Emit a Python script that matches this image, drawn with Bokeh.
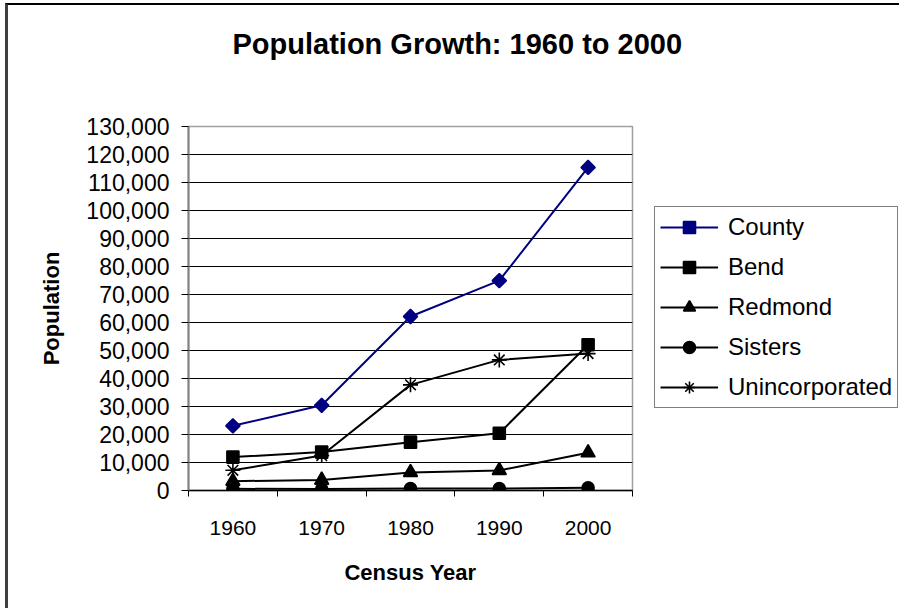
import numpy as np
from bokeh.plotting import figure
from bokeh.models import (Range1d, FixedTicker, NumeralTickFormatter, Legend, LegendItem)
from bokeh.embed import file_html
from bokeh.resources import INLINE

years = ["1960", "1970", "1980", "1990", "2000"]
county = [23100, 30442, 62142, 74958, 115367]
bend = [11936, 13710, 17263, 20469, 52029]
redmond = [3340, 3721, 6452, 7163, 13481]
sisters = [602, 516, 696, 679, 959]
unincorporated = [7222, 12495, 37731, 46647, 48898]

y_ticks = list(range(0, 130001, 10000))

FONT = "Liberation Sans"

p = figure(frame_width=444, frame_height=364, output_backend="svg", toolbar_location=None,
           x_range=Range1d(0, len(years)), y_range=Range1d(0, 130000),
           min_border_left=180, min_border_right=266, min_border_top=121,
           min_border_bottom=118,
           styles={"border-top": "2px solid #000000", "border-left": "3px solid #404040",
                   "margin-left": "5px", "margin-top": "3px"})

# trailing line breaks reserve empty lines below the title, lifting it up
p.title.text = "Population Growth: 1960 to 2000\n\n"
p.title.text_font = FONT
p.title.text_font_size = "29px"
p.title.text_font_style = "bold"
p.title.text_color = "#000000"
p.title.align = "left"
p.title.offset = 44
p.title.standoff = 6

xs = [i + 0.5 for i in range(len(years))]

p.xaxis.ticker = FixedTicker(ticks=xs, minor_ticks=list(range(len(years) + 1)))
p.xaxis.major_label_overrides = {x: y for x, y in zip(xs, years)}
p.xaxis.major_tick_out = 0
p.xaxis.major_tick_in = 0
p.xaxis.minor_tick_out = 6
p.xaxis.minor_tick_in = 0
p.xaxis.minor_tick_line_color = "#000000"
p.xaxis.axis_line_color = "#000000"
p.xaxis.axis_line_width = 1.5
p.xaxis.major_label_text_font = FONT
p.xaxis.major_label_text_font_size = "21px"
p.xaxis.major_label_text_color = "#000000"
p.xaxis.major_label_standoff = 24
p.xaxis.axis_label = "Census Year"
p.xaxis.axis_label_text_font = FONT
p.xaxis.axis_label_text_font_size = "22px"
p.xaxis.axis_label_text_font_style = "bold"
p.xaxis.axis_label_text_color = "#000000"
p.xaxis.axis_label_standoff = 22

p.yaxis.ticker = FixedTicker(ticks=y_ticks)
p.yaxis.formatter = NumeralTickFormatter(format="0,0")
p.yaxis.major_tick_out = 7
p.yaxis.major_tick_in = 0
p.yaxis.minor_tick_line_color = None
p.yaxis.major_tick_line_color = "#000000"
p.yaxis.axis_line_color = "#808080"
p.yaxis.axis_line_width = 2
p.yaxis.major_label_text_font = FONT
p.yaxis.major_label_text_font_size = "23px"
p.yaxis.major_label_text_color = "#000000"
p.yaxis.major_label_standoff = 12
p.yaxis.axis_label = "Population"
p.yaxis.axis_label_text_font = FONT
p.yaxis.axis_label_text_font_size = "22px"
p.yaxis.axis_label_text_font_style = "bold"
p.yaxis.axis_label_text_color = "#000000"
p.yaxis.axis_label_standoff = 19

p.xgrid.grid_line_color = None
p.ygrid.grid_line_color = "#000000"
p.ygrid.grid_line_width = 1
p.outline_line_color = "#a0a0a0"
p.outline_line_width = 1.5

series = [
    ("County", county, "#000080", "square", 10, np.pi / 4),
    ("Bend", bend, "#000000", "square", 12, 0),
    ("Redmond", redmond, "#000000", "triangle", 14, 0),
    ("Sisters", sisters, "#000000", "circle", 12, 0),
    ("Unincorporated", unincorporated, "#000000", "asterisk", 15, 0),
]

items = []
for name, vals, color, marker, size, ang in series:
    lr = p.line(xs, vals, line_color=color, line_width=2)
    sr = p.scatter(xs, vals, marker=marker, size=size, angle=ang,
                   fill_color=color, line_color=color, line_width=1.6)
    items.append(LegendItem(label=name, renderers=[lr, sr]))

legend = Legend(items=items, location=(22, 82))
legend.label_text_font = FONT
legend.label_text_font_size = "24px"
legend.label_text_color = "#000000"
legend.glyph_width = 58
legend.glyph_height = 30
legend.label_height = 30
legend.label_standoff = 10
legend.spacing = 10
legend.padding = 5
legend.margin = 0
legend.border_line_color = "#000000"
legend.border_line_width = 1
legend.background_fill_alpha = 1
p.add_layout(legend, "right")

open("out.html", "w").write(file_html(p, INLINE))
